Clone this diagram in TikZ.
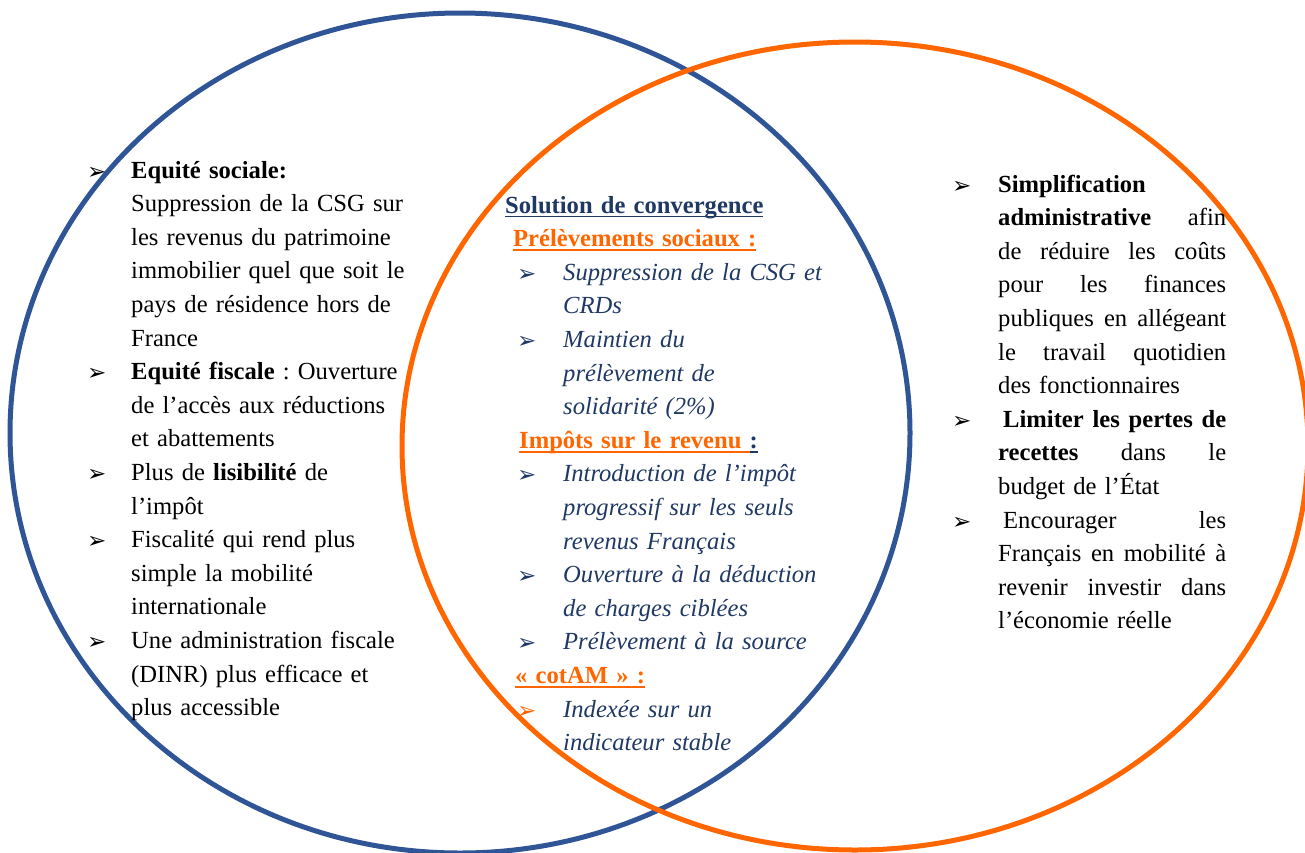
\documentclass[tikz,border=0pt]{standalone}
\usepackage{fontspec}
\setmainfont{Liberation Serif}
\newfontfamily\puces{DejaVu Sans}
\usetikzlibrary{positioning}
\frenchspacing

\definecolor{bleuCercle}{HTML}{2F5597}
\definecolor{orangeCercle}{HTML}{FF6600}
\definecolor{bleuTexte}{HTML}{1F3864}

\newsavebox{\boiteSoul}
\newcommand{\souligne}[1]{\sbox{\boiteSoul}{#1}\rlap{\rule[-4.3pt]{\wd\boiteSoul}{1.8pt}}\usebox{\boiteSoul}}
\newcommand{\puce}[1][44pt]{\makebox[#1][l]{\raisebox{-1pt}{\puces\bfseries\fontsize{23}{23}\selectfont ➢}}}
\newcommand{\retrait}[1][44pt]{\hspace*{#1}}
\newcommand{\ligne}[2][228pt]{\makebox[#1][s]{\spaceskip=0pt\xspaceskip=0pt\relax #2}}
\newcommand{\entete}[2]{\textup{\bfseries\color{#1}\souligne{#2}}}

\begin{document}
\begin{tikzpicture}[
    x=1pt, y=-1pt,
    colonne/.style={anchor=base west, inner sep=0pt, align=left,
      font=\fontsize{24.6}{33.6}\selectfont},
    cercle/.style={line width=5pt}
  ]

  \path[use as bounding box] (0,0) rectangle (1305,852);

  % les deux ensembles
  \draw[cercle, bleuCercle] (460,433) ellipse [x radius=450pt, y radius=420pt];
  \draw[cercle, orangeCercle] (855,446) ellipse [x radius=453pt, y radius=404pt];

  % cercle de gauche
  \node[colonne, text width=330pt] (gauche) at (87,178) {%
    \puce\textbf{Equité sociale:}\\
    \retrait Suppression de la CSG sur\\
    \retrait les revenus du patrimoine\\
    \retrait immobilier quel que soit le\\
    \retrait pays de résidence hors de\\
    \retrait France\\
    \puce\textbf{Equité fiscale} : Ouverture\\
    \retrait de l’accès aux réductions\\
    \retrait et abattements\\
    \puce Plus de \textbf{lisibilité} de\\
    \retrait l’impôt\\
    \puce Fiscalité qui rend plus\\
    \retrait simple la mobilité\\
    \retrait internationale\\
    \puce Une administration fiscale\\
    \retrait (DINR) plus efficace et\\
    \retrait plus accessible};

  % intersection
  \node[colonne, text width=320pt, text=bleuTexte] (milieu) at (505,213) {%
    \itshape
    \textup{\bfseries\souligne{Solution de convergence}}\\
    \hspace*{8pt}\entete{orangeCercle}{Prélèvements sociaux :}\\
    \hspace*{12pt}\puce[46pt]Suppression de la CSG et\\
    \retrait[58pt]CRDs\\
    \hspace*{12pt}\puce[46pt]Maintien du\\
    \retrait[58pt]prélèvement de\\
    \retrait[58pt]solidarité (2\%)\\
    \hspace*{14pt}\entete{orangeCercle}{Impôts sur le revenu }\textup{\bfseries\souligne{:}}\\
    \hspace*{12pt}\puce[46pt]Introduction de l’impôt\\
    \retrait[58pt]progressif sur les seuls\\
    \retrait[58pt]revenus Français\\
    \hspace*{12pt}\puce[46pt]Ouverture à la déduction\\
    \retrait[58pt]de charges ciblées\\
    \hspace*{12pt}\puce[46pt]Prélèvement à la source\\
    \hspace*{10pt}\entete{orangeCercle}{« cotAM » :}\\
    \hspace*{12pt}{\color{orangeCercle}\puce[46pt]}Indexée sur un\\
    \retrait[58pt]indicateur stable};

  % cercle de droite
  \node[colonne, text width=280pt] (droite) at (952,192) {%
    \puce[46pt]\textbf{Simplification}\\
    \retrait[46pt]\ligne{\textbf{administrative} afin}\\
    \retrait[46pt]\ligne{de réduire les coûts}\\
    \retrait[46pt]\ligne{pour les finances}\\
    \retrait[46pt]\ligne{publiques en allégeant}\\
    \retrait[46pt]\ligne{le travail quotidien}\\
    \retrait[46pt]des fonctionnaires\\
    \puce[51pt]\ligne[223pt]{\textbf{Limiter les pertes de}}\\
    \retrait[46pt]\ligne{\textbf{recettes} dans le}\\
    \retrait[46pt]budget de l’État\\
    \puce[51pt]\ligne[223pt]{Encourager les}\\
    \retrait[46pt]\ligne{Français en mobilité à}\\
    \retrait[46pt]\ligne{revenir investir dans}\\
    \retrait[46pt]l’économie réelle};

\end{tikzpicture}
\end{document}
